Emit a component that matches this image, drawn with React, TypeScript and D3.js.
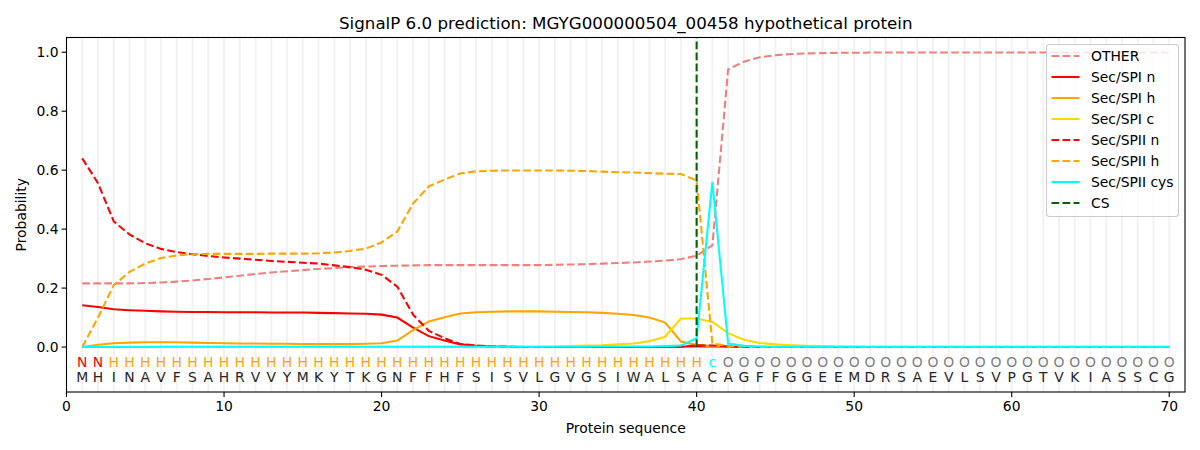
import React from "react";
import * as d3 from "d3";

const sequence = "MHINAVFSAHRVVYMKYTKGNFFHFSISVLGVGSIWALSACAGFFGGEEMDRSAEVLSVPGTVKIASSCG".split("");
const regionLabels = "NNHHHHHHHHHHHHHHHHHHHHHHHHHHHHHHHHHHHHHHcOOOOOOOOOOOOOOOOOOOOOOOOOOOOO".split("");
const cleavageSite = 40;

const other = [
  0.216, 0.216, 0.216, 0.216, 0.217, 0.219, 0.222, 0.226, 0.231, 0.236,
  0.242, 0.248, 0.253, 0.257, 0.261, 0.265, 0.268, 0.271, 0.273, 0.275,
  0.276, 0.277, 0.278, 0.278, 0.278, 0.278, 0.278, 0.278, 0.278, 0.278,
  0.279, 0.28, 0.281, 0.283, 0.285, 0.287, 0.29, 0.293, 0.298, 0.31,
  0.345, 0.942, 0.968, 0.983, 0.99, 0.994, 0.996, 0.997, 0.998, 0.998,
  0.999, 0.999, 0.999, 0.999, 0.999, 0.999, 0.999, 0.999, 0.999, 0.999,
  0.999, 0.999, 0.999, 0.999, 0.999, 0.999, 0.999, 0.999, 0.999, 0.999,
];
const spiN = [
  0.142, 0.136, 0.128, 0.125, 0.123, 0.121, 0.12, 0.119, 0.119, 0.118,
  0.118, 0.118, 0.117, 0.117, 0.117, 0.116, 0.115, 0.114, 0.113, 0.11,
  0.1, 0.066, 0.037, 0.022, 0.009, 0.004, 0.002, 0.001, 0, 0,
  0, 0, 0, 0, 0, 0, 0, 0, 0.001, 0.003,
  0.002, 0.001, 0, 0, 0, 0, 0, 0, 0, 0,
  0, 0, 0, 0, 0, 0, 0, 0, 0, 0,
  0, 0, 0, 0, 0, 0, 0, 0, 0, 0,
];
const spiH = [
  0, 0.008, 0.013, 0.015, 0.016, 0.016, 0.016, 0.015, 0.014, 0.013,
  0.012, 0.012, 0.011, 0.011, 0.01, 0.01, 0.01, 0.01, 0.011, 0.013,
  0.022, 0.057, 0.087, 0.101, 0.114, 0.118, 0.12, 0.121, 0.121, 0.121,
  0.12, 0.119, 0.118, 0.116, 0.113, 0.109, 0.1, 0.083, 0.019, 0.008,
  0.003, 0.001, 0, 0, 0, 0, 0, 0, 0, 0,
  0, 0, 0, 0, 0, 0, 0, 0, 0, 0,
  0, 0, 0, 0, 0, 0, 0, 0, 0, 0,
];
const spiC = [
  0, 0.001, 0.001, 0.001, 0.001, 0.001, 0.001, 0.001, 0.001, 0.001,
  0.001, 0.001, 0.001, 0.001, 0.001, 0.001, 0.001, 0.001, 0.001, 0.001,
  0.001, 0.001, 0.001, 0.001, 0.001, 0.001, 0.001, 0.001, 0.001, 0.001,
  0.002, 0.003, 0.005, 0.006, 0.009, 0.012, 0.02, 0.035, 0.097, 0.097,
  0.085, 0.047, 0.025, 0.014, 0.009, 0.006, 0.004, 0.003, 0.002, 0.002,
  0.001, 0.001, 0.001, 0.001, 0.001, 0.001, 0.001, 0.001, 0.001, 0.001,
  0.001, 0.001, 0.001, 0.001, 0.001, 0.001, 0.001, 0.001, 0.001, 0.001,
];
const spiiN = [
  0.64, 0.556, 0.426, 0.382, 0.352, 0.333, 0.322, 0.315, 0.309, 0.304,
  0.3, 0.296, 0.292, 0.289, 0.286, 0.283, 0.277, 0.271, 0.262, 0.245,
  0.205, 0.11, 0.055, 0.03, 0.01, 0.005, 0.002, 0.001, 0, 0,
  0, 0, 0, 0, 0, 0, 0, 0, 0.002, 0.006,
  0.005, 0.002, 0, 0, 0, 0, 0, 0, 0, 0,
  0, 0, 0, 0, 0, 0, 0, 0, 0, 0,
  0, 0, 0, 0, 0, 0, 0, 0, 0, 0,
];
const spiiH = [
  0, 0.1, 0.21, 0.255, 0.283, 0.302, 0.311, 0.315, 0.316, 0.316,
  0.316, 0.316, 0.317, 0.317, 0.317, 0.318, 0.321, 0.326, 0.334, 0.355,
  0.392, 0.487, 0.545, 0.568, 0.589, 0.596, 0.598, 0.599, 0.599, 0.599,
  0.599, 0.598, 0.597, 0.595, 0.593, 0.592, 0.59, 0.588, 0.587, 0.565,
  0.012, 0.004, 0.002, 0.001, 0, 0, 0, 0, 0, 0,
  0, 0, 0, 0, 0, 0, 0, 0, 0, 0,
  0, 0, 0, 0, 0, 0, 0, 0, 0, 0,
];
const spiiCys = [
  0, 0, 0, 0, 0, 0.001, 0.001, 0.001, 0.001, 0.001,
  0.001, 0.001, 0.001, 0.001, 0.001, 0.001, 0.001, 0.001, 0.001, 0.001,
  0.001, 0.001, 0.001, 0.001, 0.001, 0.001, 0.001, 0.001, 0.001, 0.001,
  0.001, 0.001, 0.001, 0.002, 0.002, 0.002, 0.002, 0.003, 0.005, 0.03,
  0.56, 0.012, 0.004, 0.002, 0.001, 0.001, 0.001, 0.001, 0.001, 0.001,
  0.001, 0.001, 0.001, 0.001, 0.001, 0.001, 0.001, 0.001, 0.001, 0.001,
  0.001, 0.001, 0.001, 0.001, 0.001, 0.001, 0.001, 0.001, 0.001, 0.001,
];

const series = [
  { name: "OTHER", values: other, color: "#f08080", dashed: true },
  { name: "Sec/SPI n", values: spiN, color: "#ff0000", dashed: false },
  { name: "Sec/SPI h", values: spiH, color: "#ffa500", dashed: false },
  { name: "Sec/SPI c", values: spiC, color: "#ffd700", dashed: false },
  { name: "Sec/SPII n", values: spiiN, color: "#ff0000", dashed: true },
  { name: "Sec/SPII h", values: spiiH, color: "#ffa500", dashed: true },
  { name: "Sec/SPII cys", values: spiiCys, color: "#00ffff", dashed: false },
];

const labelColor: Record<string, string> = { N: "#ff0000", H: "#ffa500", c: "#00ffff", O: "#808080" };

const W = 1200;
const H = 450;
const margin = { top: 37.5, right: 15, bottom: 58, left: 66.5 };
const FONT = "DejaVu Sans, sans-serif";
const FS = 13.9;
const LW = 2.08;
const DASH = "7.7,3.33";

export default function App() {
  const x = d3.scaleLinear().domain([0, 71]).range([margin.left, W - margin.right]);
  const y = d3.scaleLinear().domain([-0.1525, 1.05]).range([H - margin.bottom, margin.top]);
  const line = d3
    .line<number>()
    .x((_, i) => x(i + 1))
    .y((d) => y(d));
  const positions = sequence.map((_, i) => i + 1);
  const xTicks = d3.range(0, 71, 10);
  const yTicks = d3.range(0, 1.01, 0.2);
  const bottom = H - margin.bottom;
  const legendX = 1046.5;
  const legendY = 44.5;

  return (
    <svg width={W} height={H} style={{ position: "absolute", left: 0, top: 0, fontFamily: FONT }}>
      <rect width={W} height={H} fill="#fff" />
      {positions.map((p) => (
        <line key={p} x1={x(p)} x2={x(p)} y1={margin.top} y2={bottom} stroke="#f2f2f2" strokeWidth={2} />
      ))}
      {series.map((s) => (
        <path
          key={s.name}
          d={line(s.values) ?? ""}
          fill="none"
          stroke={s.color}
          strokeWidth={LW}
          strokeDasharray={s.dashed ? DASH : undefined}
        />
      ))}
      {/* cleavage site marker runs from 0 to the top of the axes */}
      <line
        x1={x(cleavageSite)}
        x2={x(cleavageSite)}
        y1={y(0)}
        y2={margin.top}
        stroke="#006400"
        strokeWidth={LW}
        strokeDasharray={DASH}
      />
      {positions.map((p, i) => (
        <g key={p} fontSize={FS} textAnchor="middle">
          <text x={x(p)} y={y(-0.05) + 5} fill={labelColor[regionLabels[i]]}>
            {regionLabels[i]}
          </text>
          <text x={x(p)} y={y(-0.1) + 5} fill="#262626">
            {sequence[i]}
          </text>
        </g>
      ))}
      <rect
        x={margin.left}
        y={margin.top}
        width={W - margin.right - margin.left}
        height={bottom - margin.top}
        fill="none"
        stroke="#000"
        strokeWidth={1.1}
      />
      {xTicks.map((t) => (
        <g key={t}>
          <line x1={x(t)} x2={x(t)} y1={bottom} y2={bottom + 4.9} stroke="#000" strokeWidth={1.1} />
          <text x={x(t)} y={bottom + 19} fontSize={FS} textAnchor="middle">
            {t}
          </text>
        </g>
      ))}
      {yTicks.map((t) => (
        <g key={t}>
          <line x1={margin.left - 4.9} x2={margin.left} y1={y(t)} y2={y(t)} stroke="#000" strokeWidth={1.1} />
          <text x={margin.left - 8} y={y(t) + 5} fontSize={FS} textAnchor="end">
            {t.toFixed(1)}
          </text>
        </g>
      ))}
      <text x={(margin.left + W - margin.right) / 2} y={433} fontSize={FS} textAnchor="middle">
        Protein sequence
      </text>
      <text
        transform={`translate(26,${(margin.top + bottom) / 2}) rotate(-90)`}
        fontSize={FS}
        textAnchor="middle"
      >
        Probability
      </text>
      <text x={(margin.left + W - margin.right) / 2} y={29} fontSize={16.7} textAnchor="middle">
        SignalP 6.0 prediction: MGYG000000504_00458 hypothetical protein
      </text>
      <rect
        x={legendX}
        y={legendY}
        width={132}
        height={172}
        rx={3}
        fill="#fff"
        fillOpacity={0.8}
        stroke="#cccccc"
        strokeWidth={1.1}
      />
      {[...series, { name: "CS", color: "#006400", dashed: true }].map((s, i) => (
        <g key={s.name} transform={`translate(${legendX},${legendY + 11.5 + i * 21})`}>
          <line
            x1={5}
            x2={33}
            y1={0}
            y2={0}
            stroke={s.color}
            strokeWidth={LW}
            strokeDasharray={s.dashed ? DASH : undefined}
          />
          <text x={44.5} y={5} fontSize={FS}>
            {s.name}
          </text>
        </g>
      ))}
    </svg>
  );
}
